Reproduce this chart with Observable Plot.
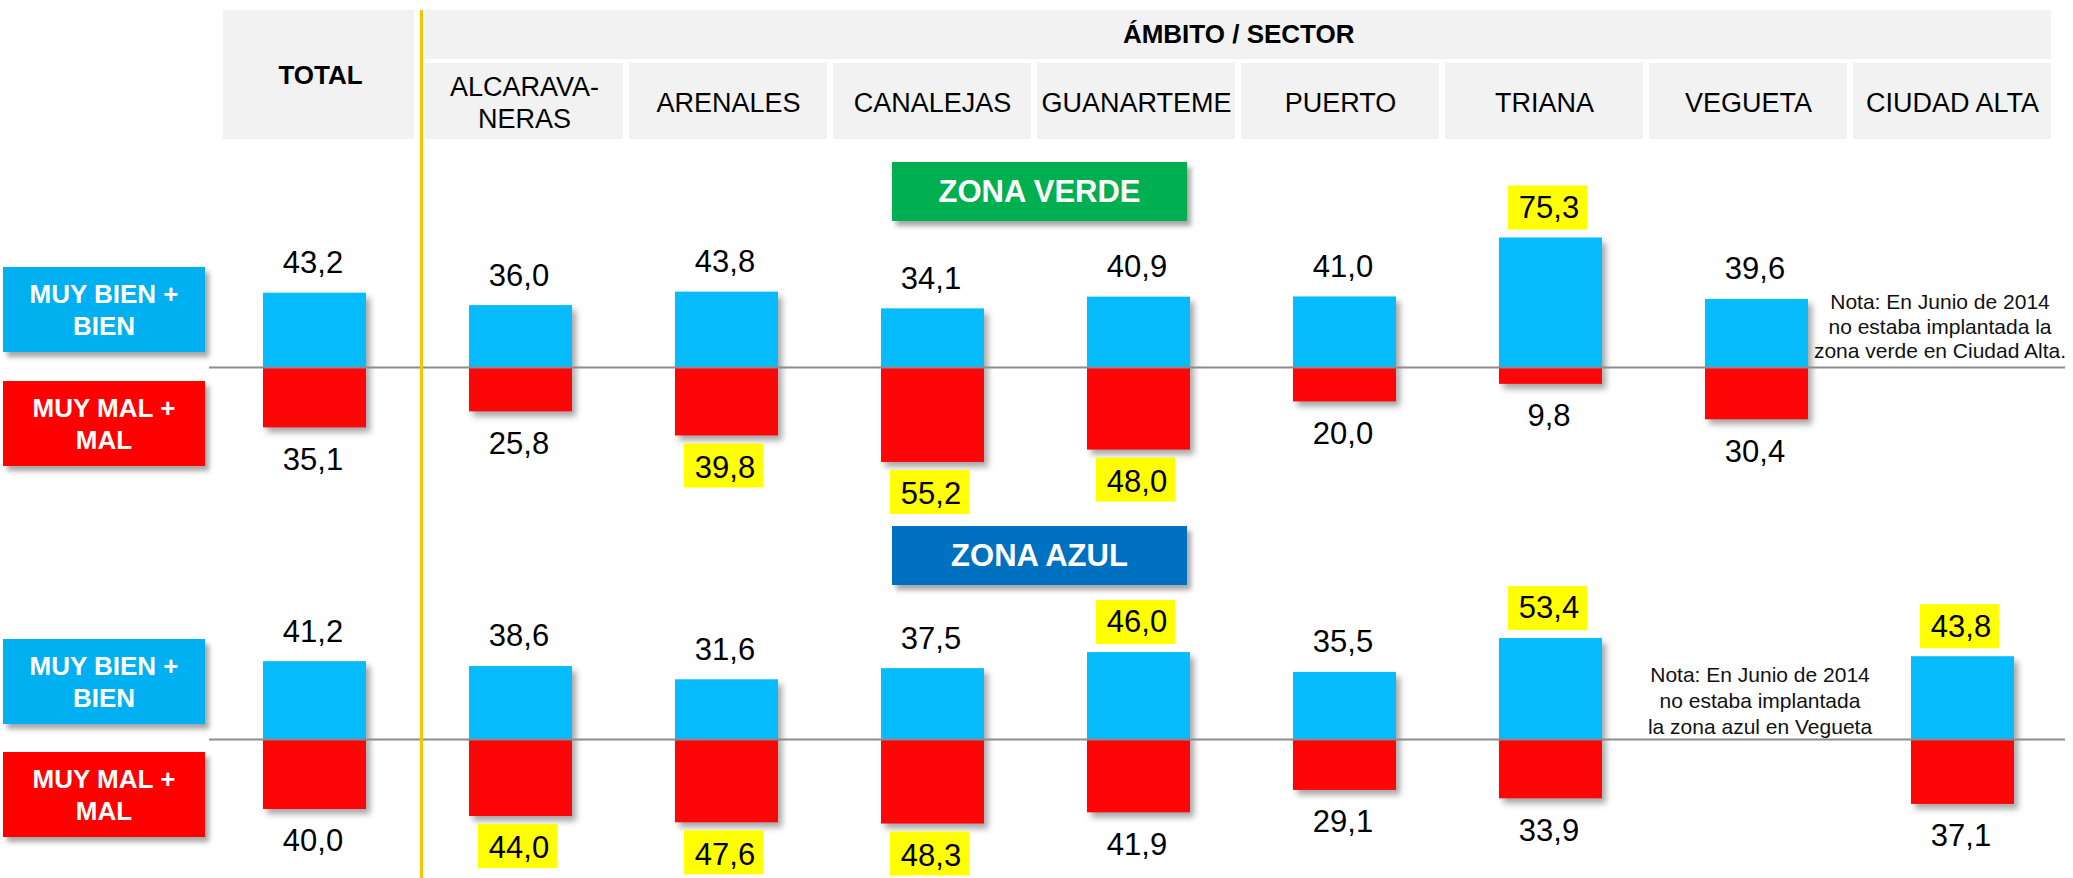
<!DOCTYPE html>
<html>
<head>
<meta charset="utf-8">
<script src="https://cdn.jsdelivr.net/npm/d3@7"></script>
<script src="https://cdn.jsdelivr.net/npm/@observablehq/plot@0.6"></script>
<style>
  body { margin: 0; background: #fff; font-family: "Liberation Sans", Arial, sans-serif; }
  #root { position: relative; width: 2073px; height: 878px; overflow: hidden; background: #fff; }
  .layer { position: absolute; left: 0; top: 0; }
  .box { position: absolute; display: flex; align-items: center; justify-content: center; text-align: center;
         color: #fff; font-weight: bold; box-shadow: 4px 5px 5px rgba(0,0,0,0.35); }
</style>
</head>
<body>
<div id="root"></div>
<script>
// ---------- DATA ----------
const categories = ["TOTAL", "ALCARAVANERAS", "ARENALES", "CANALEJAS", "GUANARTEME", "PUERTO", "TRIANA", "VEGUETA", "CIUDAD ALTA"];
const headerLabels = ["TOTAL", "ALCARAVA-\nNERAS", "ARENALES", "CANALEJAS", "GUANARTEME", "PUERTO", "TRIANA", "VEGUETA", "CIUDAD ALTA"];
const headerGroup = "ÁMBITO / SECTOR";

// Zona verde
const verdeBien = [43.2, 36.0, 43.8, 34.1, 40.9, 41.0, 75.3, 39.6, null];
const verdeMal  = [35.1, 25.8, 39.8, 55.2, 48.0, 20.0, 9.8, 30.4, null];
const verdeBienResaltado = ["TRIANA"];
const verdeMalResaltado  = ["ARENALES", "CANALEJAS", "GUANARTEME"];

// Zona azul
const azulBien = [41.2, 38.6, 31.6, 37.5, 46.0, 35.5, 53.4, null, 43.8];
const azulMal  = [40.0, 44.0, 47.6, 48.3, 41.9, 29.1, 33.9, null, 37.1];
const azulBienResaltado = ["GUANARTEME", "TRIANA", "CIUDAD ALTA"];
const azulMalResaltado  = ["ALCARAVANERAS", "ARENALES", "CANALEJAS"];

const zonas = ["ZONA VERDE", "ZONA AZUL"];
const leyenda = ["MUY BIEN +\nBIEN", "MUY MAL +\nMAL"];
const notaVerde = {cat: "CIUDAD ALTA", texto: "Nota: En Junio de 2014\nno estaba implantada la\nzona verde en Ciudad Alta."};
const notaAzul  = {cat: "VEGUETA", texto: "Nota: En Junio de 2014\nno estaba implantada\nla zona azul en Vegueta"};

// ---------- STYLE / LAYOUT ----------
const W = 2073, H = 878;
const FONT = "'Liberation Sans', Arial, sans-serif";
const BLUE_BAR = "#07bcfd", RED_BAR = "#fe0508", YELLOW = "#ffff00";
const GRIS = "#f2f2f2";
const fmt = v => v.toFixed(1).replace(".", ",");
const root = document.getElementById("root");

function addLayer(node, z) {
  const d = document.createElement("div");
  d.className = "layer";
  d.style.zIndex = z;
  d.appendChild(node);
  root.appendChild(d);
}

// ---------- HEADER ----------
const sectores = categories.slice(1);
const header = Plot.plot({
  width: W, height: 145,
  marginTop: 10, marginBottom: 6, marginLeft: 0, marginRight: 0,
  x: {type: "band", domain: categories, range: [215.9, 2055.5], paddingInner: 0.031, paddingOuter: 0.0155, align: 0.5, axis: null},
  style: {background: "none", fontFamily: FONT, overflow: "visible"},
  marks: [
    Plot.cell(["TOTAL"], {x: d => d, fill: GRIS, insetLeft: 2, insetRight: 5}),
    Plot.cell(sectores, {x: d => d, fill: GRIS, insetTop: 53}),
    Plot.cell(sectores.slice(0, 1), {x: d => d, fill: GRIS, insetBottom: 80, insetRight: -3.3}),
    Plot.cell(sectores.slice(1, -1), {x: d => d, fill: GRIS, insetBottom: 80, insetLeft: -3.3, insetRight: -3.3}),
    Plot.cell(sectores.slice(-1), {x: d => d, fill: GRIS, insetBottom: 80, insetLeft: -3.3}),
    Plot.text(["TOTAL"], {x: d => d, text: d => headerLabels[categories.indexOf(d)], fontWeight: "bold", fontSize: 26, fill: "#000", dy: 1}),
    Plot.text(sectores, {x: d => d, text: d => headerLabels[categories.indexOf(d)], fontSize: 27, fill: "#000", dy: 26.5, lineHeight: 1.185}),
    Plot.text([headerGroup], {x: () => "GUANARTEME", text: d => d, fontWeight: "bold", fontSize: 26, fill: "#000", dx: 102.2, dy: -40})
  ]
});
addLayer(header, 1);

// ---------- PANELS ----------
function panel(bien, mal, bienHi, malHi, nota, notaDx, notaDy, notaLh, yDomain, yRange) {
  const rows = categories.map((cat, i) => ({cat, bien: bien[i], mal: mal[i]}));
  const rb = rows.filter(d => d.bien != null);
  const rm = rows.filter(d => d.mal != null);
  const hb = rb.filter(d => bienHi.includes(d.cat));
  const hm = rm.filter(d => malHi.includes(d.cat));
  const svg = Plot.plot({
    width: W, height: H,
    marginTop: 0, marginBottom: 0, marginLeft: 209, marginRight: 8,
    x: {type: "band", domain: categories, range: [208.15, 2068.5], paddingInner: 0.5, paddingOuter: 0.25, align: 0.5, axis: null},
    y: {type: "linear", domain: yDomain, range: yRange, axis: null},
    style: {background: "none", fontFamily: FONT, overflow: "visible"},
    marks: [
      Plot.barY(rb, {x: "cat", y1: 0, y2: "bien", fill: BLUE_BAR}),
      Plot.barY(rm, {x: "cat", y1: 0, y2: d => -d.mal, fill: RED_BAR}),
      Plot.ruleY([0], {stroke: "#8c8c8c", strokeWidth: 2}),
      Plot.barY(hb, {x: "cat", y1: "bien", y2: "bien", fill: YELLOW, insetTop: -52, insetBottom: 8, insetLeft: 9, insetRight: 15}),
      Plot.barY(hm, {x: "cat", y1: d => -d.mal, y2: d => -d.mal, fill: YELLOW, insetTop: 8, insetBottom: -52, insetLeft: 9, insetRight: 15}),
      Plot.text(rb, {x: "cat", y: "bien", text: d => fmt(d.bien), dy: -30, dx: -2, fontSize: 31, fill: "#000"}),
      Plot.text(rm, {x: "cat", y: d => -d.mal, text: d => fmt(d.mal), dy: 32, dx: -2, fontSize: 31, fill: "#000"}),
      Plot.text([nota], {x: d => d.cat, y: () => 0, text: d => d.texto, dx: notaDx, dy: notaDy, fontSize: 21, lineHeight: notaLh, fill: "#111"})
    ]
  });
  const bars = svg.querySelectorAll('g[aria-label="bar"]');
  for (let k = 0; k < 2 && k < bars.length; k++) {
    bars[k].style.filter = "drop-shadow(4px 5px 3px rgba(0,0,0,0.35))";
  }
  return svg;
}

addLayer(panel(verdeBien, verdeMal, verdeBienResaltado, verdeMalResaltado, notaVerde, -23, -42, 1.19,
  [-60, 0, 80], [367 + 60 * 1.72, 367, 367 - 80 * 1.72]), 2);
addLayer(panel(azulBien, azulMal, azulBienResaltado, azulMalResaltado, notaAzul, 3, -40, 1.24,
  [-55, 0, 60], [739 + 55 * 1.75, 739, 739 - 60 * 1.89]), 3);

// ---------- DECORATIONS ----------
function box(text, left, top, width, height, bg, fontSize, lineHeight) {
  const d = document.createElement("div");
  d.className = "box";
  Object.assign(d.style, {left: left + "px", top: top + "px", width: width + "px", height: height + "px",
    background: bg, fontSize: fontSize + "px", lineHeight: lineHeight + "px", zIndex: 5, whiteSpace: "pre"});
  d.textContent = text;
  root.appendChild(d);
}
box(leyenda[0], 3, 267, 202, 85, "#00b0f0", 26, 32);
box(leyenda[1], 3, 381, 202, 85, "#ff0000", 26, 32);
box(leyenda[0], 3, 639, 202, 85, "#00b0f0", 26, 32);
box(leyenda[1], 3, 752, 202, 85, "#ff0000", 26, 32);
box(zonas[0], 892, 162, 295, 59, "#00b050", 31, 36);
box(zonas[1], 892, 526, 295, 59, "#0070c0", 31, 36);

const sep = document.createElement("div");
Object.assign(sep.style, {position: "absolute", left: "420px", top: "10px", width: "3px", height: "868px", background: "#ffc000", zIndex: 6});
root.appendChild(sep);
</script>
</body>
</html>
